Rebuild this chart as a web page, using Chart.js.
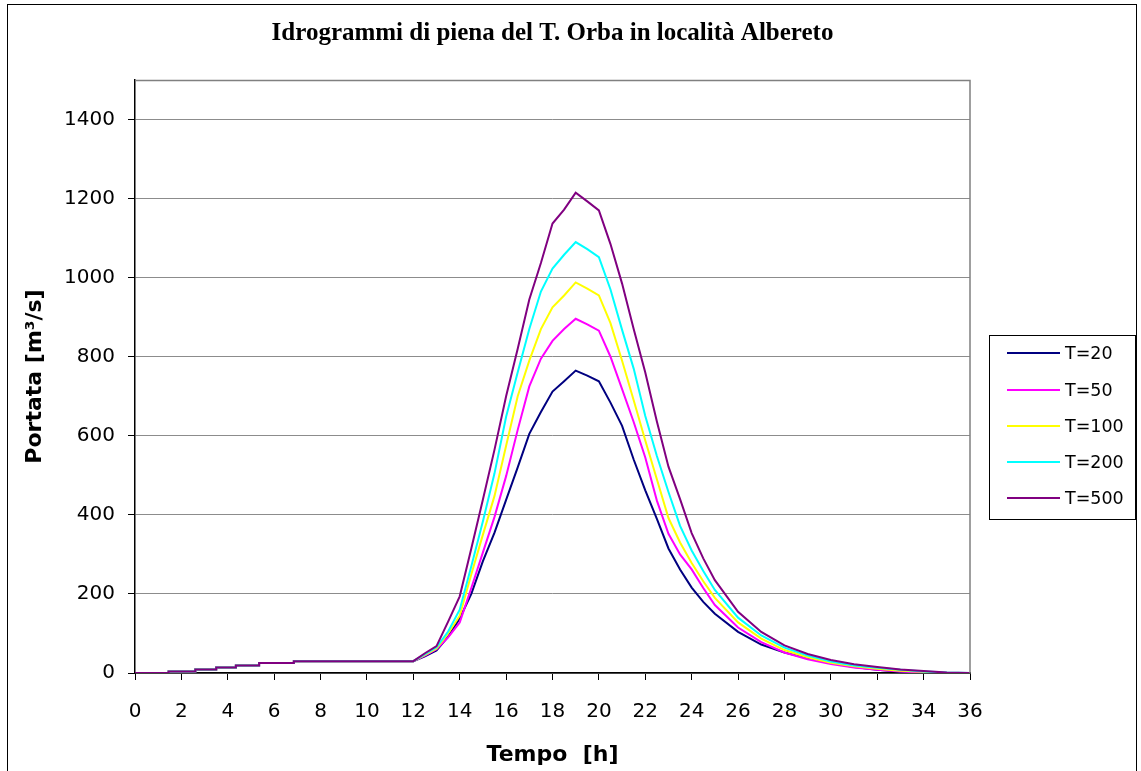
<!DOCTYPE html>
<html>
<head>
<meta charset="utf-8">
<script src="https://cdn.jsdelivr.net/npm/chart.js@4.4.1/dist/chart.umd.min.js"></script>
<style>
html,body{margin:0;padding:0;background:#fff;}
canvas{display:block;}
</style>
</head>
<body>
<canvas id="c" width="1141" height="771"></canvas>
<script>
const titolo = "Idrogrammi di piena del T. Orba in località Albereto";
const titoloX = "Tempo  [h]";
const titoloY = "Portata [m³/s]";
const etichette = ["T=20", "T=50", "T=100", "T=200", "T=500"];
const colori = ["#000080", "#FF00FF", "#FFFF00", "#00FFFF", "#800080"];

// deflusso di base (uguale per tutti i tempi di ritorno)
const tempoBase   = [0, 1.45, 1.45, 2.6, 2.6, 3.5, 3.5, 4.35, 4.35, 5.35, 5.35, 6.85, 6.85];
const portataBase = [0, 0,    4,    4,   9,   9,   14,  14,   19,   19,   25,   25,   30];

// onda di piena
const tempoPiena = [12, 12.5, 13, 13.5, 14, 14.5, 15, 15.5, 16, 16.5, 17, 17.5, 18, 18.5, 19, 19.5, 20, 20.5, 21, 21.5, 22, 22.5, 23, 23.5, 24, 24.5, 25, 26, 27, 28, 29, 30, 31, 32, 33, 34, 35, 36];
const q20  = [30, 42, 57, 92, 138, 200, 283, 355, 438, 520, 605, 660, 712, 738, 765, 752, 738, 684, 625, 540, 462, 390, 315, 262, 216, 180, 150, 104, 72, 52, 37, 25, 15, 8, 3, 0, 0, 0];
const q50  = [30, 44, 60, 90, 128, 215, 305, 395, 498, 615, 725, 795, 840, 870, 896, 882, 866, 800, 718, 635, 545, 436, 352, 300, 262, 215, 172, 115, 78, 52, 35, 23, 14, 8, 4, 1, 0, 0];
const q100 = [30, 46, 62, 100, 145, 250, 350, 448, 575, 700, 790, 870, 925, 955, 988, 972, 955, 885, 790, 690, 588, 490, 392, 330, 278, 232, 190, 128, 87, 58, 40, 26, 17, 11, 6, 3, 0, 0];
const q200 = [30, 48, 65, 105, 160, 270, 384, 505, 648, 761, 870, 965, 1023, 1058, 1090, 1072, 1052, 970, 868, 770, 650, 549, 458, 372, 310, 258, 210, 140, 95, 64, 44, 29, 19, 13, 8, 4, 1, 0];
const q500 = [30, 50, 68, 130, 194, 315, 439, 565, 700, 820, 945, 1037, 1137, 1172, 1215, 1193, 1170, 1085, 985, 870, 760, 636, 522, 440, 354, 290, 235, 155, 104, 70, 48, 33, 22, 15, 9, 5, 1, 0];
const serie = [q20, q50, q100, q200, q500];

const tickX = {min: 0, max: 36, step: 2};
const tickY = {min: 0, max: 1500, step: 200};

const fontSans = '"DejaVu Sans", Verdana, sans-serif';

function punti(q) {
  const p = tempoBase.map((t, i) => ({x: t, y: portataBase[i]}));
  tempoPiena.forEach((t, i) => p.push({x: t, y: q[i]}));
  return p;
}

const datasets = serie.map((q, i) => ({
  label: etichette[i],
  data: punti(q),
  borderColor: colori[i],
  backgroundColor: colori[i],
  borderWidth: 2,
  pointRadius: 0,
  showLine: true,
  fill: false,
  tension: 0,
  order: serie.length - i
}));

const cornice = {
  id: 'cornice',
  beforeDraw(chart) {
    const ctx = chart.ctx;
    ctx.save();
    ctx.fillStyle = '#fff';
    ctx.fillRect(0, 0, chart.width, chart.height);
    ctx.restore();
  },
  afterDraw(chart) {
    const ctx = chart.ctx;
    const a = chart.chartArea;
    ctx.save();
    // bordo esterno
    ctx.strokeStyle = '#000';
    ctx.lineWidth = 1;
    ctx.strokeRect(7.5, 4.5, 1129, 800);
    // bordo area del grafico (alto e destra)
    ctx.strokeStyle = '#808080';
    ctx.lineWidth = 1.5;
    ctx.beginPath();
    ctx.moveTo(a.left, a.top + 0.5);
    ctx.lineTo(a.right, a.top + 0.5);
    ctx.lineTo(a.right, a.bottom);
    ctx.stroke();
    // legenda
    ctx.strokeStyle = '#000';
    ctx.lineWidth = 1;
    ctx.strokeRect(989.5, 335.5, 146, 184);
    const ys = [353, 390, 426, 462, 498];
    ctx.font = '17.5px ' + fontSans;
    ctx.textBaseline = 'middle';
    ctx.fillStyle = '#000';
    chart.data.datasets.forEach((d, i) => {
      ctx.strokeStyle = d.borderColor;
      ctx.lineWidth = 2;
      ctx.beginPath();
      ctx.moveTo(1007, ys[i]);
      ctx.lineTo(1060, ys[i]);
      ctx.stroke();
      ctx.fillText(d.label, 1065, ys[i] + 1);
    });
    ctx.restore();
  }
};

new Chart(document.getElementById('c'), {
  type: 'scatter',
  data: {datasets},
  plugins: [cornice],
  options: {
    responsive: false,
    animation: false,
    devicePixelRatio: 1,
    layout: {padding: {top: 0, right: 171, bottom: 0, left: 0}},
    plugins: {
      legend: {display: false},
      tooltip: {enabled: false},
      title: {
        display: true,
        fullSize: false,
        text: titolo,
        color: '#000',
        font: {family: '"Liberation Serif", "Times New Roman", serif', size: 25, weight: 'bold', lineHeight: 1.2},
        padding: {top: 19, bottom: 31}
      }
    },
    scales: {
      x: {
        type: 'linear',
        min: tickX.min,
        max: tickX.max,
        ticks: {stepSize: tickX.step, color: '#000', padding: 20, maxRotation: 0, autoSkip: false,
                font: {family: fontSans, size: 20}},
        grid: {drawOnChartArea: false, drawTicks: true, tickLength: 7, tickColor: '#000'},
        border: {color: '#000', width: 1.5},
        title: {display: true, text: titoloX, color: '#000', padding: {top: 3, bottom: 3},
                font: {family: fontSans, size: 22, weight: 'bold'}},
        afterFit(s) { s.height = 98; }
      },
      y: {
        type: 'linear',
        min: tickY.min,
        max: tickY.max,
        afterBuildTicks(s) { s.ticks = s.ticks.filter(t => t.value % tickY.step === 0); },
        ticks: {stepSize: tickY.step, color: '#000', padding: 13,
                callback: v => String(v),
                font: {family: fontSans, size: 20}},
        grid: {color: '#8c8c8c', lineWidth: 1, drawTicks: true, tickLength: 7, tickColor: '#000'},
        border: {color: '#000', width: 1.5},
        title: {display: true, text: titoloY, color: '#000', padding: {top: 22, bottom: 22},
                font: {family: fontSans, size: 22, weight: 'bold'}},
        afterFit(s) { s.width = 135; }
      }
    }
  }
});
</script>
</body>
</html>
